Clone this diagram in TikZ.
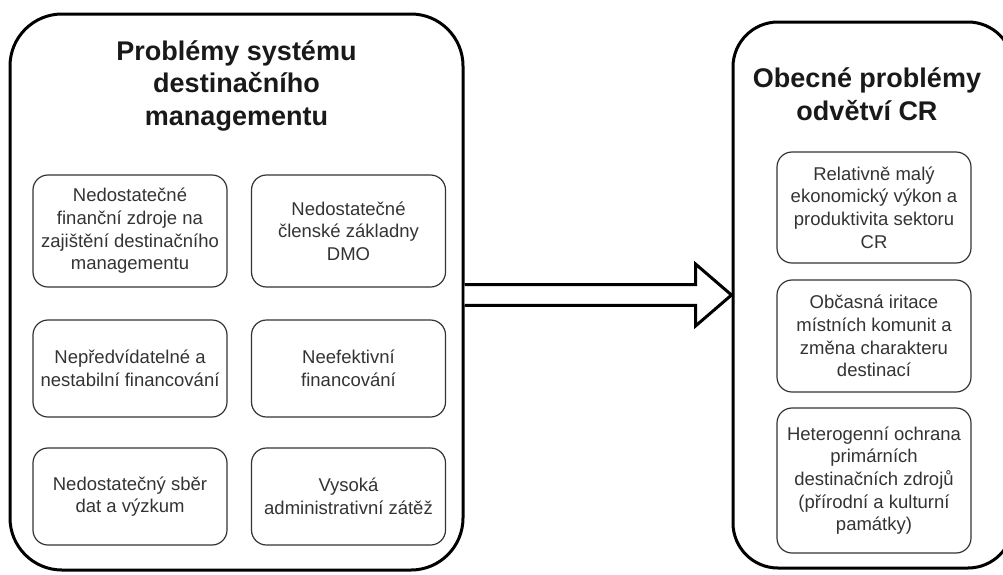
\documentclass[tikz,border=0pt]{standalone}
\usepackage{fontspec}
\setmainfont{Liberation Sans}
\begin{document}
\begin{tikzpicture}[x=1pt,y=1pt]
		\tikzstyle{every node}+=[inner sep=0pt]
		\tikzstyle{bigbox}=[draw=black, line width=3pt, rounded corners=52pt]
		\tikzstyle{smallbox}=[draw=black!80, line width=1.2pt, rounded corners=15pt, minimum width=194pt, align=center, text=black!80, font=\fontsize{18.5}{22.7}\selectfont]
		\tikzstyle{boxtitle}=[align=center, text=black!90, font=\fontsize{27}{32.5}\selectfont\bfseries]
		\tikzstyle{blockarrow}=[draw=black, line width=3pt, fill=white, line join=miter]
		\useasboundingbox (0,0) rectangle (1003,-574);
		% left container
		\node [bigbox, minimum width=453pt, minimum height=556pt] (sys) at (236.5,-292) {};
		\node [boxtitle] (systitle) at (236.5,-85.5) {Problémy systému\\destinačního\\managementu};
		\node [smallbox, minimum height=112pt] (zdroje) at (130,-231) {Nedostatečné\\finanční zdroje na\\zajištění destinačního\\managementu};
		\node [smallbox, minimum height=112pt] (clenove) at (348.5,-231) {Nedostatečné\\členské základny\\DMO};
		\node [smallbox, minimum height=97pt] (nestabil) at (130,-368.5) {Nepředvídatelné a\\nestabilní financování};
		\node [smallbox, minimum height=97pt] (neefekt) at (348.5,-368.5) {Neefektivní\\financování};
		\node [smallbox, minimum height=97pt] (data) at (130,-496.5) {Nedostatečný sběr\\dat a výzkum};
		\node [smallbox, minimum height=97pt] (admin) at (348.5,-496.5) {Vysoká\\administrativní zátěž};
		% right container
		\node [bigbox, rounded corners=45pt, minimum width=280pt, minimum height=546pt] (odvetvi) at (873,-295) {};
		\node [boxtitle] (odvtitle) at (867,-94) {Obecné problémy\\odvětví CR};
		\node [smallbox, minimum height=111pt] (vykon) at (874,-207.5) {Relativně malý\\ekonomický výkon a\\produktivita sektoru\\CR};
		\node [smallbox, minimum height=112pt] (iritace) at (874,-336) {Občasná iritace\\místních komunit a\\změna charakteru\\destinací};
		\node [smallbox, minimum height=145pt] (ochrana) at (874,-480.5) {Heterogenní ochrana\\primárních\\destinačních zdrojů\\(přírodní a kulturní\\památky)};
		% block arrow
		\coordinate (tail) at (sys.east |- odvetvi.west);
		\draw [blockarrow] ([yshift=10.3pt]tail) -- ([xshift=-36pt,yshift=10.3pt]odvetvi.west) -- ([xshift=-36pt,yshift=31pt]odvetvi.west) -- (odvetvi.west) -- ([xshift=-36pt,yshift=-31pt]odvetvi.west) -- ([xshift=-36pt,yshift=-10.3pt]odvetvi.west) -- ([yshift=-10.3pt]tail);
\end{tikzpicture}
\end{document}
